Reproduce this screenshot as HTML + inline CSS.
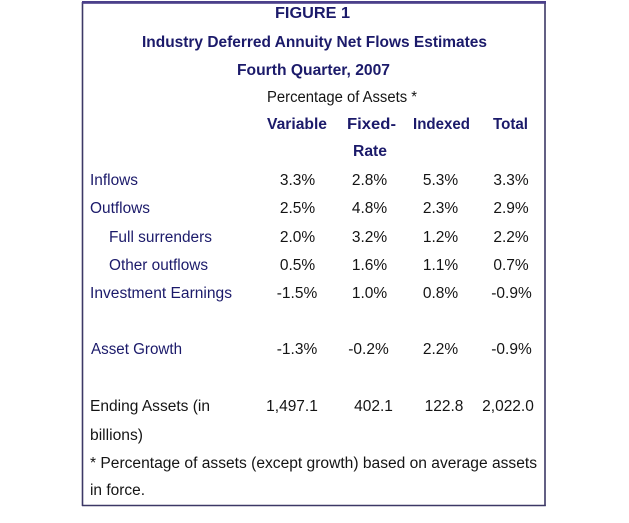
<!DOCTYPE html>
<html>
<head>
<meta charset="utf-8">
<style>
html,body{margin:0;padding:0;background:#fff;}
svg{display:block;}
text{font-family:"Liberation Sans",Arial,sans-serif;font-size:15.5px;}
.h{fill:#1b1a6a;font-weight:bold;}
.l{fill:#1b1a6a;}
.n{fill:#141414;}
.c{text-anchor:middle;}
</style>
</head>
<body>
<svg width="629" height="523" viewBox="0 0 629 523" xmlns="http://www.w3.org/2000/svg">
<rect x="0" y="0" width="629" height="523" fill="#fff"/>
<!-- border -->
<line x1="82.5" y1="2" x2="82.5" y2="506" stroke="#3c3866" stroke-width="1.6"/>
<line x1="545" y1="2" x2="545" y2="506" stroke="#3c3866" stroke-width="1.6"/>
<line x1="82" y1="505.5" x2="545.8" y2="505.5" stroke="#3c3866" stroke-width="1.6"/>
<rect x="82" y="1" width="464" height="2.8" fill="#4b3f8a"/>

<!-- titles -->
<text class="h" x="275" y="18" textLength="75" lengthAdjust="spacingAndGlyphs">FIGURE 1</text>
<text class="h" x="142" y="47" textLength="345" lengthAdjust="spacingAndGlyphs">Industry Deferred Annuity Net Flows Estimates</text>
<text class="h" x="237" y="75" textLength="153" lengthAdjust="spacingAndGlyphs">Fourth Quarter, 2007</text>
<text class="n" x="267" y="102" textLength="150" lengthAdjust="spacingAndGlyphs">Percentage of Assets *</text>

<!-- column headers -->
<text class="h" x="267" y="129" textLength="60" lengthAdjust="spacingAndGlyphs">Variable</text>
<text class="h" x="347" y="129" textLength="49" lengthAdjust="spacingAndGlyphs">Fixed-</text>
<text class="h" x="413" y="129" textLength="57" lengthAdjust="spacingAndGlyphs">Indexed</text>
<text class="h" x="493" y="129" textLength="35" lengthAdjust="spacingAndGlyphs">Total</text>
<text class="h" x="353" y="156" textLength="34" lengthAdjust="spacingAndGlyphs">Rate</text>

<!-- row labels -->
<text class="l" x="90" y="185" textLength="48" lengthAdjust="spacingAndGlyphs">Inflows</text>
<text class="l" x="90" y="213" textLength="60" lengthAdjust="spacingAndGlyphs">Outflows</text>
<text class="l" x="109" y="242" textLength="103" lengthAdjust="spacingAndGlyphs">Full surrenders</text>
<text class="l" x="109" y="270" textLength="99" lengthAdjust="spacingAndGlyphs">Other outflows</text>
<text class="l" x="90" y="298" textLength="142" lengthAdjust="spacingAndGlyphs">Investment Earnings</text>
<text class="l" x="91" y="354" textLength="91" lengthAdjust="spacingAndGlyphs">Asset Growth</text>
<text class="n" x="90" y="411" textLength="120" lengthAdjust="spacingAndGlyphs">Ending Assets (in</text>
<text class="n" x="90" y="440" textLength="53" lengthAdjust="spacingAndGlyphs">billions)</text>
<text class="n" x="90" y="468" textLength="447" lengthAdjust="spacingAndGlyphs">* Percentage of assets (except growth) based on average assets</text>
<text class="n" x="90" y="495" textLength="55" lengthAdjust="spacingAndGlyphs">in force.</text>

<!-- data -->
<g class="n">
<text class="n c" x="297.5" y="185">3.3%</text>
<text class="n c" x="369.5" y="185">2.8%</text>
<text class="n c" x="440.5" y="185">5.3%</text>
<text class="n c" x="511" y="185">3.3%</text>

<text class="n c" x="297.5" y="213">2.5%</text>
<text class="n c" x="369.5" y="213">4.8%</text>
<text class="n c" x="440.5" y="213">2.3%</text>
<text class="n c" x="511" y="213">2.9%</text>

<text class="n c" x="297.5" y="242">2.0%</text>
<text class="n c" x="369.5" y="242">3.2%</text>
<text class="n c" x="440.5" y="242">1.2%</text>
<text class="n c" x="511" y="242">2.2%</text>

<text class="n c" x="297.5" y="270">0.5%</text>
<text class="n c" x="369.5" y="270">1.6%</text>
<text class="n c" x="440.5" y="270">1.1%</text>
<text class="n c" x="511" y="270">0.7%</text>

<text class="n c" x="297" y="298">-1.5%</text>
<text class="n c" x="369.5" y="298">1.0%</text>
<text class="n c" x="440.5" y="298">0.8%</text>
<text class="n c" x="511.5" y="298">-0.9%</text>

<text class="n c" x="297" y="354">-1.3%</text>
<text class="n c" x="368.5" y="354">-0.2%</text>
<text class="n c" x="440.5" y="354">2.2%</text>
<text class="n c" x="511.5" y="354">-0.9%</text>

<text class="n c" x="292" y="411">1,497.1</text>
<text class="n c" x="373.5" y="411">402.1</text>
<text class="n c" x="444" y="411">122.8</text>
<text class="n c" x="508" y="411">2,022.0</text>
</g>
</svg>
</body>
</html>
